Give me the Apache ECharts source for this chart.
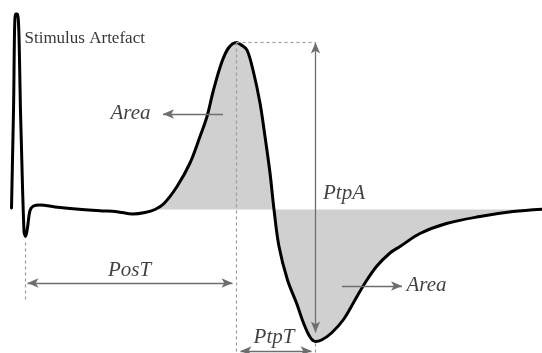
<!DOCTYPE html>
<html>
<head>
<meta charset="utf-8">
<script src="https://cdn.jsdelivr.net/npm/echarts@6/dist/echarts.min.js"></script>
<style>
  html, body { margin: 0; padding: 0; background: #fff; }
  #chart { width: 542px; height: 353px; }
</style>
</head>
<body>
<div id="chart"></div>
<script>
// Recorded compound action potential, amplitude relative to the baseline (0)
const time = [11.5, 13.5, 15.5, 17.5, 20.8, 24, 25.5, 27.5, 30, 33.5, 40, 55, 70, 100, 117, 133, 145, 155,
  164, 177, 190, 200, 207, 213.5, 221.5, 228.5, 236.5, 242, 247, 253, 260, 265, 270, 274,
  279, 287.5, 296.5, 303.5, 310, 315.5, 321.5, 331.5, 343.5, 355, 365, 376.5, 390, 400,
  420, 446.5, 480, 513, 542];
const amplitude = [1.5, 98.5, 195.5, 195.5, 87, -22, -27, -18, -1, 3.5, 4.5, 2.5, 1, -1.2, -2.2, -4.5, -3, 0,
  6, 23, 46.5, 73, 93, 119.5, 146.5, 161.5, 167, 164, 159.5, 139.5, 106.5, 73, 36.5, 0,
  -37, -70.5, -93.5, -113.5, -127.5, -132, -130.5, -123.5, -110, -90.5, -73.5, -57, -43.5, -37,
  -24, -14, -7, -2, 0.3];

// First baseline crossing of the response: the shaded area starts here
const areaStart = 155;

// Annotation labels
const labelTexts = {
  artefact: 'Stimulus Artefact',
  area: 'Area',
  ptpA: 'PtpA',
  posT: 'PosT',
  ptpT: 'PtpT'
};

const X_MIN = 0, X_MAX = 542, Y_MIN = -143.5, Y_MAX = 209.5;

// Landmarks taken from the trace itself
function argExtreme(from, to, cmp) {
  let best = from;
  for (let i = from; i <= to; i++) if (cmp(amplitude[i], amplitude[best])) best = i;
  return best;
}
const responseFrom = time.findIndex(t => t >= 100);
const peakIdx = argExtreme(responseFrom, time.length - 1, (a, b) => a > b);
const troughIdx = argExtreme(responseFrom, time.length - 1, (a, b) => a < b);
const artefactTroughIdx = argExtreme(3, responseFrom - 1, (a, b) => a < b);

const peak = [time[peakIdx], amplitude[peakIdx]];
const trough = [time[troughIdx], amplitude[troughIdx]];
const artefactTrough = [time[artefactTroughIdx], amplitude[artefactTroughIdx]];

const trace = time.map((t, i) => [t, amplitude[i]]);
const shaded = trace.filter(p => p[0] >= areaStart);

// Annotation layout (data units)
const areaLeftLevel = 95.5, areaRightLevel = -76.5;
const posTLevel = -73.5, ptpTLevel = -141.5;

const ARROW_COLOR = '#6e6e6e';
const GUIDE_COLOR = '#9a9a9a';
const arrowSize = [7, 11];
const SERIF = '"Liberation Serif", "DejaVu Serif", serif';

const arrowEnd = (x, y) => ({ coord: [x, y], symbol: 'arrow', symbolSize: arrowSize });
const plainEnd = (x, y) => ({ coord: [x, y], symbol: 'none' });

// Text annotation anchored at a data point
function note(text, at, align, size, italic, color) {
  return {
    value: at,
    name: text,
    label: {
      show: true,
      formatter: text,
      position: [0, 0],
      align: align,
      verticalAlign: 'middle',
      fontFamily: SERIF,
      fontSize: size,
      fontStyle: italic ? 'italic' : 'normal',
      color: color
    }
  };
}

const notes = [
  note(labelTexts.artefact, [25, 170.5], 'left', 17, false, '#000'),
  note(labelTexts.area, [151, areaLeftLevel], 'right', 21, true, '#111'),
  note(labelTexts.area, [407, areaRightLevel], 'left', 21, true, '#111'),
  note(labelTexts.ptpA, [344.5, 15.5], 'center', 21, true, '#111'),
  note(labelTexts.posT, [130, -61.5], 'center', 21, true, '#111'),
  note(labelTexts.ptpT, [274.5, -128.5], 'center', 21, true, '#111')
];

const chart = echarts.init(document.getElementById('chart'), null, { renderer: 'canvas' });

chart.setOption({
  animation: false,
  backgroundColor: '#fff',
  grid: { left: 0, right: 0, top: 0, bottom: 0 },
  xAxis: { type: 'value', min: X_MIN, max: X_MAX, show: false },
  yAxis: { type: 'value', min: Y_MIN, max: Y_MAX, show: false },
  series: [
    {
      name: 'area',
      type: 'line',
      data: shaded,
      smooth: 0.35,
      symbol: 'none',
      silent: true,
      z: 1,
      lineStyle: { width: 0, opacity: 0 },
      areaStyle: { color: '#d0d0d0', opacity: 1, origin: 0 }
    },
    {
      name: 'guides',
      type: 'line',
      data: [],
      silent: true,
      z: 2,
      markLine: {
        silent: true,
        symbol: ['none', 'none'],
        label: { show: false },
        emphasis: { disabled: true },
        lineStyle: { color: GUIDE_COLOR, width: 1.2, type: [3, 3] },
        data: [
          [{ coord: [peak[0], peak[1]] }, { coord: [peak[0], Y_MIN] }],
          [{ coord: [peak[0], peak[1]] }, { coord: [trough[0], peak[1]] }],
          [{ coord: [artefactTrough[0], artefactTrough[1] - 6] }, { coord: [artefactTrough[0], -90] }],
          [{ coord: [trough[0], trough[1] - 2] }, { coord: [trough[0], Y_MIN] }]
        ]
      }
    },
    {
      name: 'arrows',
      type: 'line',
      data: [],
      silent: true,
      z: 3,
      markLine: {
        silent: true,
        symbol: ['none', 'none'],
        label: { show: false },
        emphasis: { disabled: true },
        lineStyle: { color: ARROW_COLOR, width: 1.3, type: 'solid' },
        itemStyle: { color: ARROW_COLOR },
        data: [
          [plainEnd(223, areaLeftLevel), arrowEnd(163, areaLeftLevel)],
          [plainEnd(342, areaRightLevel), arrowEnd(402, areaRightLevel)],
          [arrowEnd(trough[0], peak[1]), arrowEnd(trough[0], trough[1] + 9)],
          [arrowEnd(artefactTrough[0] + 2, posTLevel), arrowEnd(peak[0] - 4, posTLevel)],
          [arrowEnd(peak[0] + 4, ptpTLevel), arrowEnd(trough[0] - 4, ptpTLevel)]
        ]
      }
    },
    {
      name: 'trace',
      type: 'line',
      data: trace,
      smooth: 0.35,
      symbol: 'none',
      silent: true,
      z: 4,
      lineStyle: { color: '#000', width: 3, join: 'round', cap: 'round' }
    },
    {
      name: 'notes',
      type: 'scatter',
      data: notes,
      symbolSize: 1,
      silent: true,
      z: 10,
      itemStyle: { color: 'rgba(0,0,0,0)' },
      emphasis: { disabled: true }
    }
  ]
});
</script>
</body>
</html>
